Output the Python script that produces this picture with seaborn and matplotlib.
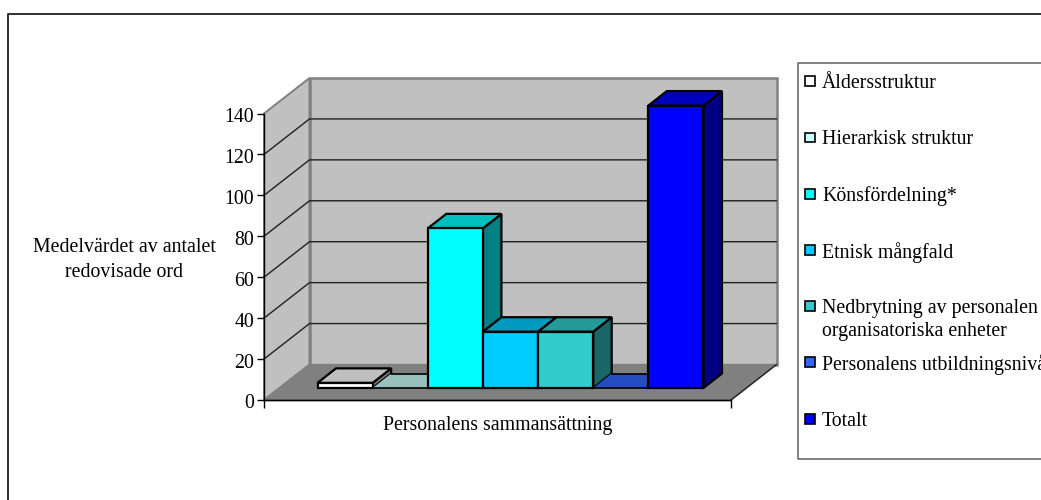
import matplotlib
matplotlib.use("Agg")
import matplotlib.pyplot as plt
from matplotlib.lines import Line2D
from matplotlib.patches import Polygon, Rectangle
from matplotlib.colors import to_rgb
from matplotlib.transforms import ScaledTranslation
import seaborn as sns
import pandas as pd

categories = ["Åldersstruktur", "Hierarkisk struktur", "Könsfördelning*", "Etnisk mångfald",
              "Nedbrytning av personalen\norganisatoriska enheter", "Personalens utbildningsnivå", "Totalt"]
values = [2.5, 0, 78, 27.5, 27.5, 0, 138]
colors = ["#ffffff", "#ccffff", "#00ffff", "#00ccff", "#33cccc", "#3366ff", "#0000ff"]
y_ticks = [0, 20, 40, 60, 80, 100, 120, 140]
x_title = "Personalens sammansättning"
y_title = "Medelvärdet av antalet\nredovisade ord"

W, H = 1041, 500
sns.set_theme(style="white")
plt.rcParams["font.family"] = ["Liberation Serif", "DejaVu Serif"]
FS = 14.3

fig = plt.figure(figsize=(W / 100, H / 100), dpi=100, facecolor="white")

# The axes box is the front plane of the 3D chart, in pixels.
LEFT, RIGHT, BOTTOM, TOP = 264, 731, 400, 113.5
ax = fig.add_axes([LEFT / W, 1 - BOTTOM / H, (RIGHT - LEFT) / W, (BOTTOM - TOP) / H])
ax.patch.set_visible(False)

CAT_PX = 55.14
PX_Y = (BOTTOM - TOP) / 140
xmin = -0.5 - (303.5 - LEFT) / CAT_PX
xmax = xmin + (RIGHT - LEFT) / CAT_PX


def shift(dx_px, dy_px):
    """Depth offset in pixels, converted to data units."""
    return dx_px / CAT_PX, dy_px / PX_Y


def add_poly(pts, face, edge="black", lw=1.0, z=2):
    ax.add_patch(Polygon(pts, closed=True, facecolor=face, edgecolor=edge, linewidth=lw,
                         joinstyle="miter", clip_on=False, zorder=z))


def shade(color, factor):
    return tuple(c * factor for c in to_rgb(color))


# Walls and floor, extruded backwards from the front plane
wx, wy = shift(45.5, 35.5)
WALL = "#c0c0c0"
FRAME = "#808080"
add_poly([(xmin, 0), (xmin + wx, wy), (xmin + wx, 140 + wy), (xmin, 140)], WALL, FRAME, 1.4, 0.5)
add_poly([(xmin + wx, wy), (xmax + wx, wy), (xmax + wx, 140 + wy), (xmin + wx, 140 + wy)], WALL, FRAME, 1.8, 0.6)
add_poly([(xmin, 0), (xmax, 0), (xmax + wx, wy), (xmin + wx, wy)], FRAME, FRAME, 1.0, 0.7)

# Gridlines run across the side wall and the back wall
for t in y_ticks[1:-1]:
    ax.plot([xmin, xmin + wx, xmax + wx], [t, t + wy, t + wy], color="#202020", lw=1.0,
            clip_on=False, zorder=0.8, solid_joinstyle="miter")
ax.plot([xmin, xmax], [0, 0], color="#202020", lw=1.0, clip_on=False, zorder=0.9)
ax.plot([xmax, xmax + wx], [0, wy], color="#202020", lw=1.0, clip_on=False, zorder=0.9)

# Front faces of the bars
table = pd.DataFrame({"category": categories, "value": values})
sns.barplot(data=table, x="category", y="value", hue="category", palette=colors, legend=False,
            width=1.0, saturation=1.0, ax=ax, edgecolor="black", linewidth=1.6, zorder=3)
ax.set_xlim(xmin, xmax)
ax.set_ylim(0, 140)

# Bars stand inside the floor; each one gets a top and a side face
bx, by = shift(14, 12)
ex, ey = shift(18.5, 14.5)
bars = list(ax.patches[-len(values):])
for order, (bar, color) in enumerate(zip(bars, colors)):
    bar.set_x(bar.get_x() + bx)
    bar.set_y(bar.get_y() + by)
    bar.set_clip_on(False)
    bar.set_zorder(3 + order * 0.1 + 0.05)
    x0, x1 = bar.get_x(), bar.get_x() + bar.get_width()
    y0, y1 = bar.get_y(), bar.get_y() + bar.get_height()
    z = 3 + order * 0.1
    if bar.get_height() > 0:
        add_poly([(x1, y0), (x1 + ex, y0 + ey), (x1 + ex, y1 + ey), (x1, y1)],
                 shade(color, 0.5), "black", 1.6, z)
        add_poly([(x0, y1), (x1, y1), (x1 + ex, y1 + ey), (x0 + ex, y1 + ey)],
                 shade(color, 0.75), "black", 1.6, z)
    else:
        # A zero value leaves only a flat face lying on the floor, hidden edges removed
        add_poly([(x0, y0), (x1, y0), (x1 + ex, y0 + ey), (x0 + ex, y0 + ey)],
                 shade(color, 0.75), "none", 0, z)
        ax.plot([x0 + ex, x1 + ex], [y0 + ey, y0 + ey], color="black", lw=1.2, clip_on=False, zorder=z)
        ax.plot([x0, x1], [y0, y0], color="black", lw=1.2, clip_on=False, zorder=z)
        bar.set_visible(False)

# Axes: value scale on the left, bare category axis below
for side in ("top", "right"):
    ax.spines[side].set_visible(False)
for side in ("left", "bottom"):
    ax.spines[side].set_color("black")
    ax.spines[side].set_linewidth(1.0)
ax.set_yticks(y_ticks)
ax.set_xticks([xmin, xmax])
ax.set_xticklabels(["", ""])
ax.tick_params(axis="y", left=True, length=5, width=1.0, color="black", labelsize=FS,
               labelcolor="black", pad=2)
ax.tick_params(axis="x", bottom=True, length=6, width=1.0, color="black")
ax.set_xlabel("")
ax.set_ylabel("")
nudge = ScaledTranslation(0, -1.5 / 100, fig.dpi_scale_trans)
for label in ax.get_yticklabels():
    label.set_transform(label.get_transform() + nudge)


def fig_text(x, y, s, **kw):
    return fig.text(x / W, 1 - y / H, s, fontsize=FS, color="black", **kw)


fig_text(498, 425.5, x_title, ha="center", va="center")
fig_text(124, 260, y_title, ha="center", va="center", linespacing=1.38)

# Outer chart frame is open at the right and the bottom
fig.add_artist(Line2D([7.5 / W, 7.5 / W, 1], [0, 1 - 14 / H, 1 - 14 / H], color="#303030", lw=1.4))

# Legend box runs past the right edge
fig.add_artist(Line2D([1, 798 / W, 798 / W, 1],
                      [1 - 63 / H, 1 - 63 / H, 1 - 459 / H, 1 - 459 / H], color="#606060", lw=1.1))
legend_y = [81.5, 138, 194, 250, 306, 362, 419]
for name, color, ly in zip(categories, colors, legend_y):
    fig.add_artist(Rectangle((805 / W, 1 - (ly + 4.5) / H), 9.5 / W, 9.5 / H, transform=fig.transFigure,
                             facecolor=color, edgecolor="black", linewidth=1.2))
    fig_text(822, ly - 7.5, name, ha="left", va="top", linespacing=1.35)

fig.savefig("out.png", dpi=100, facecolor="white")
